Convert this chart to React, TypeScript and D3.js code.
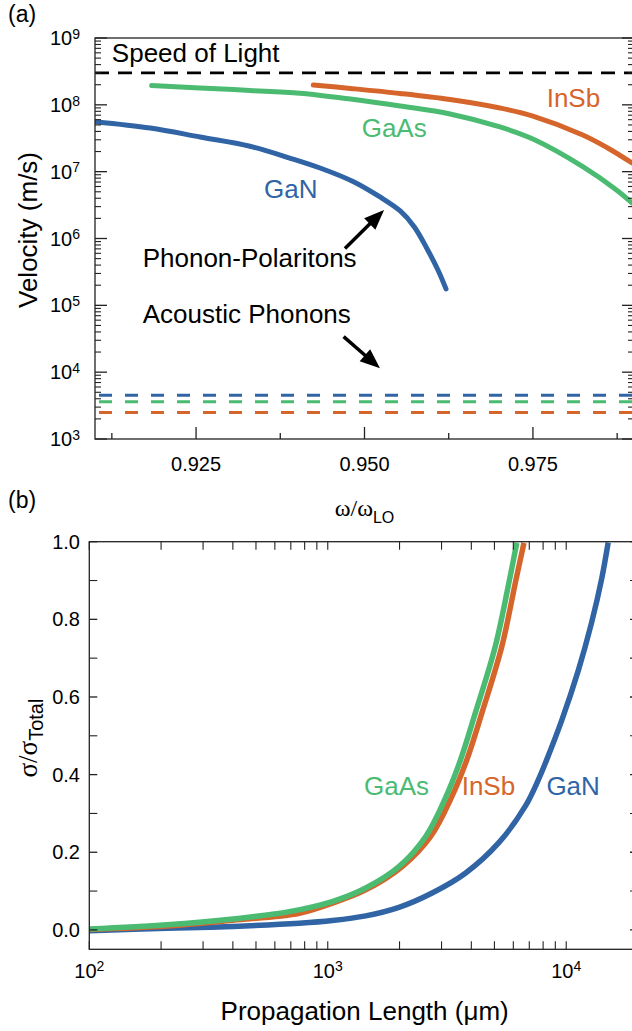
import React from "react";
import * as d3 from "d3";

const W = 632;
const H = 1031;
const SANS = "'Liberation Sans', Arial, sans-serif";
const SERIF = "'Liberation Serif', 'Times New Roman', serif";
const BLUE = "#3064a5";
const GREEN = "#4bbb72";
const ORANGE = "#d5652b";
const AXIS = "#222";

// ---- panel (a): group velocity vs omega/omega_LO
const ganOmega = [0.91, 0.9182, 0.9256, 0.933, 0.9389, 0.9434, 0.9483, 0.9523, 0.9553, 0.9574, 0.9593, 0.9609, 0.9621];
const ganVel = [5.6e7, 4.5e7, 3.3e7, 2.4e7, 1.6e7, 1.135e7, 7.13e6, 4.18e6, 2.58e6, 1.49e6, 6.97e5, 3.38e5, 1.76e5];
const gaasOmega = [0.9184, 0.9256, 0.933, 0.9404, 0.9479, 0.9553, 0.9627, 0.9701, 0.975, 0.9824, 0.9874, 0.9897];
const gaasVel = [1.94e8, 1.79e8, 1.64e8, 1.49e8, 1.22e8, 9.6e7, 7.3e7, 4.67e7, 3.08e7, 1.19e7, 5.32e6, 3.4e6];
const insbOmega = [0.9424, 0.9479, 0.9553, 0.9627, 0.9701, 0.975, 0.9824, 0.9861, 0.9897];
const insbVel = [1.98e8, 1.76e8, 1.48e8, 1.2e8, 8.97e7, 6.8e7, 3.54e7, 2.26e7, 1.35e7];
const speedOfLight = 3e8;
const acousticVel = [
  { name: "GaN", v: 4500, color: BLUE },
  { name: "GaAs", v: 3600, color: GREEN },
  { name: "InSb", v: 2500, color: ORANGE },
];
const velTicks = [1e3, 1e4, 1e5, 1e6, 1e7, 1e8, 1e9];
const omegaTicks = [0.925, 0.95, 0.975];
const omegaMinor = [0.9125, 0.9375, 0.9625, 0.9875];

// ---- panel (b): cumulative fraction vs propagation length (um)
const gaasLen = [100, 211, 400, 690, 1043, 1443, 1988, 2570, 3116, 3599, 4158, 5040, 5783, 6204];
const gaasFrac = [0.002, 0.013, 0.028, 0.047, 0.073, 0.108, 0.163, 0.24, 0.34, 0.437, 0.559, 0.73, 0.902, 0.997];
const insbLen = [100, 211, 400, 760, 1046, 1443, 2052, 2697, 3294, 3824, 4431, 5370, 6156, 6650];
const insbFrac = [0.001, 0.01, 0.025, 0.043, 0.069, 0.103, 0.163, 0.24, 0.34, 0.437, 0.559, 0.73, 0.902, 0.997];
const ganLen = [100, 211, 400, 760, 1046, 1443, 1988, 2739, 3776, 5206, 6727, 7645, 8279, 9567, 11232, 12768, 14057, 14995];
const ganFrac = [-0.002, 0.004, 0.009, 0.017, 0.024, 0.036, 0.058, 0.095, 0.146, 0.224, 0.318, 0.387, 0.438, 0.539, 0.668, 0.791, 0.902, 0.998];
const lenTicks = [1e2, 1e3, 1e4];
const fracTicks = [0, 0.2, 0.4, 0.6, 0.8, 1.0];
const fracMinor = [0.1, 0.3, 0.5, 0.7, 0.9];

const A = { left: 95, right: 634, top: 38, bottom: 439 };
const B = { left: 89.3, right: 638, top: 541.7, bottom: 949.3 };

function logMinor(lo: number, hi: number) {
  const out: number[] = [];
  for (let e = Math.floor(Math.log10(lo)); e < Math.ceil(Math.log10(hi)); e++) {
    for (let m = 2; m <= 9; m++) {
      const v = m * Math.pow(10, e);
      if (v > lo && v < hi) out.push(v);
    }
  }
  return out;
}

const Arrow = ({ x1, y1, x2, y2 }: { x1: number; y1: number; x2: number; y2: number }) => {
  const ang = Math.atan2(y2 - y1, x2 - x1);
  const L = 20;
  const w = 8;
  const bx = x2 - L * Math.cos(ang);
  const by = y2 - L * Math.sin(ang);
  const nx = -Math.sin(ang);
  const ny = Math.cos(ang);
  return (
    <g>
      <line x1={x1} y1={y1} x2={bx + 2 * Math.cos(ang)} y2={by + 2 * Math.sin(ang)} stroke="#000" strokeWidth={3.5} />
      <polygon points={`${x2},${y2} ${bx + nx * w},${by + ny * w} ${bx - nx * w},${by - ny * w}`} fill="#000" />
    </g>
  );
};

const App = () => {
  // scales panel (a)
  const xA = d3.scaleLinear().domain([0.91, 0.99]).range([A.left, A.right]);
  const yA = d3.scaleLog().domain([1e3, 1e9]).range([A.bottom, A.top]);
  // scales panel (b)
  const xB = d3.scaleLog().domain([100, 20000]).range([B.left, B.right]);
  const yB = d3.scaleLinear().domain([-0.05, 1.0]).range([B.bottom, B.top]);

  const lineA = d3
    .line<[number, number]>()
    .x((d) => xA(d[0]))
    .y((d) => yA(d[1]))
    .curve(d3.curveCatmullRom.alpha(0.5));
  const lineB = d3
    .line<[number, number]>()
    .x((d) => xB(d[0]))
    .y((d) => yB(d[1]))
    .curve(d3.curveCatmullRom.alpha(0.5));

  const zip = (a: number[], b: number[]) => a.map((v, i) => [v, b[i]] as [number, number]);

  const velMinor = logMinor(1e3, 1e9);
  const lenMinor = logMinor(100, 20000);

  return (
    <svg
      width={W}
      height={H}
      style={{ position: "absolute", left: 0, top: 0, display: "block", background: "#fff" }}
      fontFamily={SANS}
    >
      <defs>
        <clipPath id="clipA">
          <rect x={A.left} y={A.top} width={A.right - A.left} height={A.bottom - A.top} />
        </clipPath>
        <clipPath id="clipB">
          <rect x={B.left} y={B.top} width={B.right - B.left} height={B.bottom - B.top} />
        </clipPath>
      </defs>

      {/* ================= panel (a) ================= */}
      <text x={8} y={22} fontSize={23}>(a)</text>

      <g clipPath="url(#clipA)">
        {/* speed of light */}
        <line x1={A.left} x2={A.right} y1={yA(speedOfLight)} y2={yA(speedOfLight)} stroke="#000" strokeWidth={2.8} strokeDasharray="14,9" />
        {/* acoustic phonons */}
        {acousticVel.map((a) => (
          <line key={a.name} x1={A.left} x2={A.right} y1={yA(a.v)} y2={yA(a.v)} stroke={a.color} strokeWidth={3} strokeDasharray="13,13" strokeDashoffset={-4} />
        ))}
        <path d={lineA(zip(ganOmega, ganVel)) || ""} fill="none" stroke={BLUE} strokeWidth={5} strokeLinecap="round" />
        <path d={lineA(zip(gaasOmega, gaasVel)) || ""} fill="none" stroke={GREEN} strokeWidth={5} strokeLinecap="round" />
        <path d={lineA(zip(insbOmega, insbVel)) || ""} fill="none" stroke={ORANGE} strokeWidth={5} strokeLinecap="round" />
      </g>

      {/* frame */}
      <rect x={A.left} y={A.top} width={A.right - A.left} height={A.bottom - A.top} fill="none" stroke={AXIS} strokeWidth={1.3} />

      {/* y ticks left & right */}
      {velTicks.map((t) => (
        <g key={t}>
          <line x1={A.left} x2={A.left + 12} y1={yA(t)} y2={yA(t)} stroke={AXIS} strokeWidth={1.3} />
          <line x1={A.right} x2={A.right - 12} y1={yA(t)} y2={yA(t)} stroke={AXIS} strokeWidth={1.3} />
          <text x={80} y={yA(t) + 7} fontSize={20} textAnchor="end">
            10<tspan fontSize={14} dy={-6.3}>{Math.round(Math.log10(t))}</tspan>
          </text>
        </g>
      ))}
      {velMinor.map((t) => (
        <g key={t}>
          <line x1={A.left} x2={A.left + 6} y1={yA(t)} y2={yA(t)} stroke={AXIS} strokeWidth={1.1} />
          <line x1={A.right} x2={A.right - 6} y1={yA(t)} y2={yA(t)} stroke={AXIS} strokeWidth={1.1} />
        </g>
      ))}
      {/* x ticks */}
      {omegaTicks.map((t) => (
        <g key={t}>
          <line x1={xA(t)} x2={xA(t)} y1={A.bottom} y2={A.bottom - 12} stroke={AXIS} strokeWidth={1.3} />
          <text x={xA(t)} y={471} fontSize={20} textAnchor="middle">{d3.format(".3f")(t)}</text>
        </g>
      ))}
      {omegaMinor.map((t) => (
        <line key={t} x1={xA(t)} x2={xA(t)} y1={A.bottom} y2={A.bottom - 6} stroke={AXIS} strokeWidth={1.3} />
      ))}

      {/* annotations (a) */}
      <text x={xA(0.9125)} y={yA(4.37e8)} fontSize={26}>Speed of Light</text>
      <text x={xA(0.97704)} y={yA(9.4e7)} fontSize={26} fill={ORANGE}>InSb</text>
      <text x={xA(0.94958)} y={yA(3.27e7)} fontSize={26} fill={GREEN}>GaAs</text>
      <text x={xA(0.93508)} y={yA(4.04e6)} fontSize={26} fill={BLUE}>GaN</text>
      <text x={xA(0.91708)} y={yA(3.79e5)} fontSize={26}>Phonon-Polaritons</text>
      <text x={xA(0.91708)} y={yA(5.45e4)} fontSize={26}>Acoustic Phonons</text>
      <Arrow x1={xA(0.9471)} y1={yA(7.1e5)} x2={xA(0.9529)} y2={yA(2.67e6)} />
      <Arrow x1={xA(0.9469)} y1={yA(3.4e4)} x2={xA(0.9523)} y2={yA(1.14e4)} />

      {/* axis titles (a) */}
      <text transform="translate(37,230) rotate(-90)" fontSize={26} textAnchor="middle">Velocity (m/s)</text>
      <text x={(A.left + A.right) / 2} y={516} textAnchor="middle">
        <tspan fontFamily={SERIF} fontSize={24}>ω/ω</tspan>
        <tspan fontSize={16} dy={7}>LO</tspan>
      </text>

      {/* ================= panel (b) ================= */}
      <text x={8} y={508} fontSize={23}>(b)</text>

      <g clipPath="url(#clipB)">
        <path d={lineB(zip(ganLen, ganFrac)) || ""} fill="none" stroke={BLUE} strokeWidth={5.5} />
        <path d={lineB(zip(insbLen, insbFrac)) || ""} fill="none" stroke={ORANGE} strokeWidth={5.5} />
        <path d={lineB(zip(gaasLen, gaasFrac)) || ""} fill="none" stroke={GREEN} strokeWidth={5.5} />
      </g>

      <rect x={B.left} y={B.top} width={B.right - B.left} height={B.bottom - B.top} fill="none" stroke={AXIS} strokeWidth={1.3} />

      {fracTicks.map((t) => (
        <g key={t}>
          <line x1={B.left} x2={B.left + 8} y1={yB(t)} y2={yB(t)} stroke={AXIS} strokeWidth={1.3} />
          <line x1={B.right} x2={B.right - 8} y1={yB(t)} y2={yB(t)} stroke={AXIS} strokeWidth={1.3} />
          <text x={80} y={yB(t) + 7} fontSize={20} textAnchor="end">{d3.format(".1f")(t)}</text>
        </g>
      ))}
      {fracMinor.map((t) => (
        <g key={t}>
          <line x1={B.left} x2={B.left + 8} y1={yB(t)} y2={yB(t)} stroke={AXIS} strokeWidth={1.1} />
          <line x1={B.right} x2={B.right - 8} y1={yB(t)} y2={yB(t)} stroke={AXIS} strokeWidth={1.1} />
        </g>
      ))}
      {[...lenTicks, ...lenMinor].map((t) => (
        <g key={t}>
          <line x1={xB(t)} x2={xB(t)} y1={B.bottom} y2={B.bottom - 8} stroke={AXIS} strokeWidth={1.1} />
          <line x1={xB(t)} x2={xB(t)} y1={B.top} y2={B.top + 8} stroke={AXIS} strokeWidth={1.1} />
        </g>
      ))}
      {lenTicks.map((t) => (
        <text key={t} x={xB(t)} y={978} fontSize={20} textAnchor="middle">
          10<tspan fontSize={14} dy={-7}>{Math.round(Math.log10(t))}</tspan>
        </text>
      ))}

      {/* labels (b) */}
      <text x={xB(1419)} y={yB(0.348)} fontSize={26} fill={GREEN}>GaAs</text>
      <text x={xB(3645)} y={yB(0.348)} fontSize={26} fill={ORANGE}>InSb</text>
      <text x={xB(8257)} y={yB(0.348)} fontSize={26} fill={BLUE}>GaN</text>

      {/* axis titles (b) */}
      <text transform="translate(37,738) rotate(-90)" textAnchor="middle">
        <tspan fontFamily={SERIF} fontSize={27}>σ/σ</tspan>
        <tspan fontSize={20} dy={6}>Total</tspan>
      </text>
      <text x={(B.left + 640) / 2} y={1020} fontSize={26} textAnchor="middle">Propagation Length (μm)</text>
    </svg>
  );
};

export default App;
